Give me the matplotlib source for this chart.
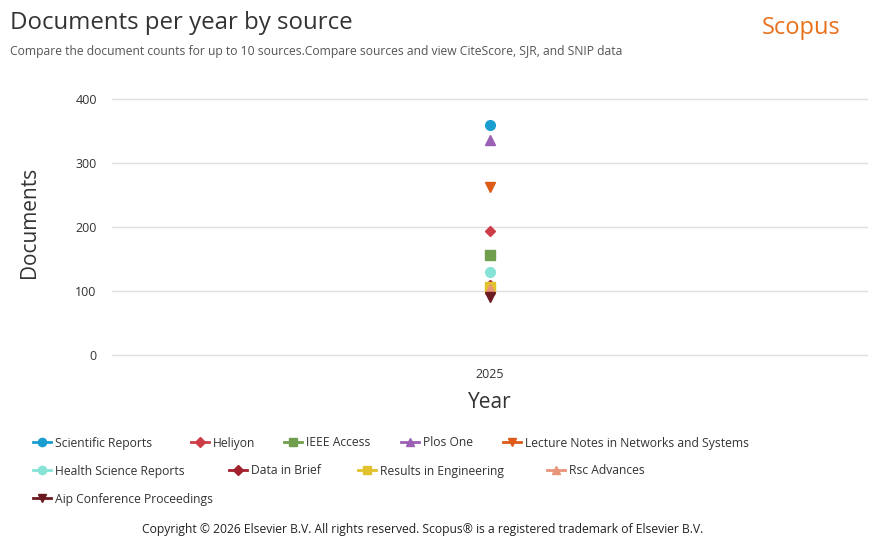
import matplotlib.pyplot as plt
from matplotlib.lines import Line2D

plt.rcParams["font.family"] = ["Open Sans", "DejaVu Sans"]

# Data
years = ["2025"]
sources = [
    "Scientific Reports",
    "Heliyon",
    "IEEE Access",
    "Plos One",
    "Lecture Notes in Networks and Systems",
    "Health Science Reports",
    "Data in Brief",
    "Results in Engineering",
    "Rsc Advances",
    "Aip Conference Proceedings",
]
documents = [359, 194, 157, 336, 263, 129, 109, 106, 103, 90]

colors = ["#1a9ecf", "#cc3d47", "#6f9e4d", "#9b5fb4", "#dd5a18",
          "#86e3d5", "#a3202d", "#e2c22c", "#e8957a", "#6b1b1f"]
markers = ["o", "D", "s", "^", "v", "o", "D", "s", "^", "v"]
msizes = [7, 5.5, 6.5, 7.5, 7.5, 7, 5.5, 6.5, 7.5, 7.5]

fig = plt.figure(figsize=(8.77, 5.5), dpi=100)
ax = fig.add_axes([112 / 877, 1 - 355 / 550, 755 / 877, 256 / 550])

x = range(len(years))
for name, vals, c, m, ms in zip(sources, documents, colors, markers, msizes):
    ax.plot(list(x), [vals], linestyle="none", marker=m, color=c,
            markersize=ms, zorder=3)

ax.set_xlim(-0.5, 0.5)
ax.set_ylim(0, 400)
ax.set_yticks([0, 100, 200, 300, 400])
ax.set_xticks(list(x))
ax.set_xticklabels(years)
ax.grid(axis="y", color="#e0e0e0", linewidth=1)
for gl in ax.get_ygridlines():
    gl.set_clip_on(False)
ax.set_axisbelow(True)
for s in ax.spines.values():
    s.set_visible(False)
ax.tick_params(length=0, labelsize=9, labelcolor="#333333")
ax.tick_params(axis="y", pad=11)
ax.tick_params(axis="x", pad=9)

ax.set_ylabel("Documents", fontsize=15, color="#333333")
ax.yaxis.set_label_coords(-0.096, 0.52)
ax.set_xlabel("Year", fontsize=15, color="#333333")
ax.xaxis.set_label_coords(0.5, -0.145)

fig.text(10 / 877, 1 - 23 / 550, "Documents per year by source", fontsize=17.3,
         color="#333333", va="center", ha="left")
fig.text(10 / 877, 1 - 52 / 550,
         "Compare the document counts for up to 10 sources.Compare sources and view CiteScore, SJR, and SNIP data",
         fontsize=8.7, color="#555555", va="center", ha="left")
fig.text(801 / 877, 1 - 28 / 550, "Scopus", fontsize=17, color="#e9711c",
         va="center", ha="center")
fig.text(423 / 877, 1 - 529 / 550,
         "Copyright \u00a9 2026 Elsevier B.V. All rights reserved. Scopus\u00ae is a registered trademark of Elsevier B.V.",
         fontsize=8.7, color="#222222", va="center", ha="center")

# legend laid out like the original flow legend
leg_x = [42, 200, 293, 410, 512, 42, 238, 367, 556, 42]
leg_y = [442, 442, 442, 442, 442, 470, 470, 470, 470, 498]
for name, c, m, ms, lx, ly in zip(sources, colors, markers, msizes, leg_x, leg_y):
    yy = 1 - ly / 550
    fig.add_artist(Line2D([(lx - 9) / 877, lx / 877, (lx + 9) / 877], [yy, yy, yy],
                          transform=fig.transFigure, color=c, linewidth=2,
                          marker=m, markersize=ms * 0.85, markevery=[1]))
    fig.text((lx + 13) / 877, yy - 1 / 550, name, fontsize=8.7, color="#333333",
             va="center", ha="left")

fig.savefig("out.png", dpi=100)
